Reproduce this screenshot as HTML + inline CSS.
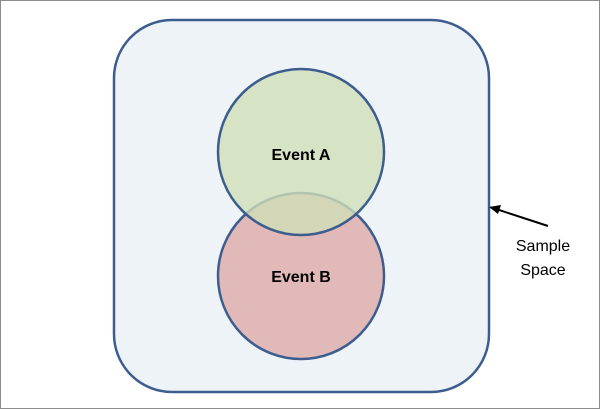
<!DOCTYPE html>
<html><head><style>
html,body{margin:0;padding:0;background:#fff;}
svg{display:block;}
text{font-family:"Liberation Sans",sans-serif;}
</style></head><body>
<svg width="600" height="409" viewBox="0 0 600 409" xmlns="http://www.w3.org/2000/svg">
<rect x="0.5" y="0.5" width="599" height="408" fill="#fff" stroke="#8c8c8c"/>
<rect x="114" y="20" width="375" height="372" rx="58" fill="#eef3f8" stroke="#3d5d8e" stroke-width="2.5"/>
<circle cx="301" cy="276" r="83" fill="#e2b9b9" stroke="#3d5d8e" stroke-width="2.5"/>
<circle cx="301" cy="152" r="83" fill="#d0dfb8" fill-opacity="0.8" stroke="#3d5d8e" stroke-width="2.5"/>
<text x="301" y="160" text-anchor="middle" font-size="16" font-weight="bold" fill="#000">Event A</text>
<text x="301" y="282" text-anchor="middle" font-size="16" font-weight="bold" fill="#000">Event B</text>
<line x1="548" y1="226" x2="496" y2="209" stroke="#000" stroke-width="2"/>
<polygon points="489,207 501,205 498,214" fill="#000"/>
<text x="543" y="251" text-anchor="middle" font-size="16" fill="#000">Sample</text>
<text x="543" y="275" text-anchor="middle" font-size="16" fill="#000">Space</text>
</svg>
</body></html>
